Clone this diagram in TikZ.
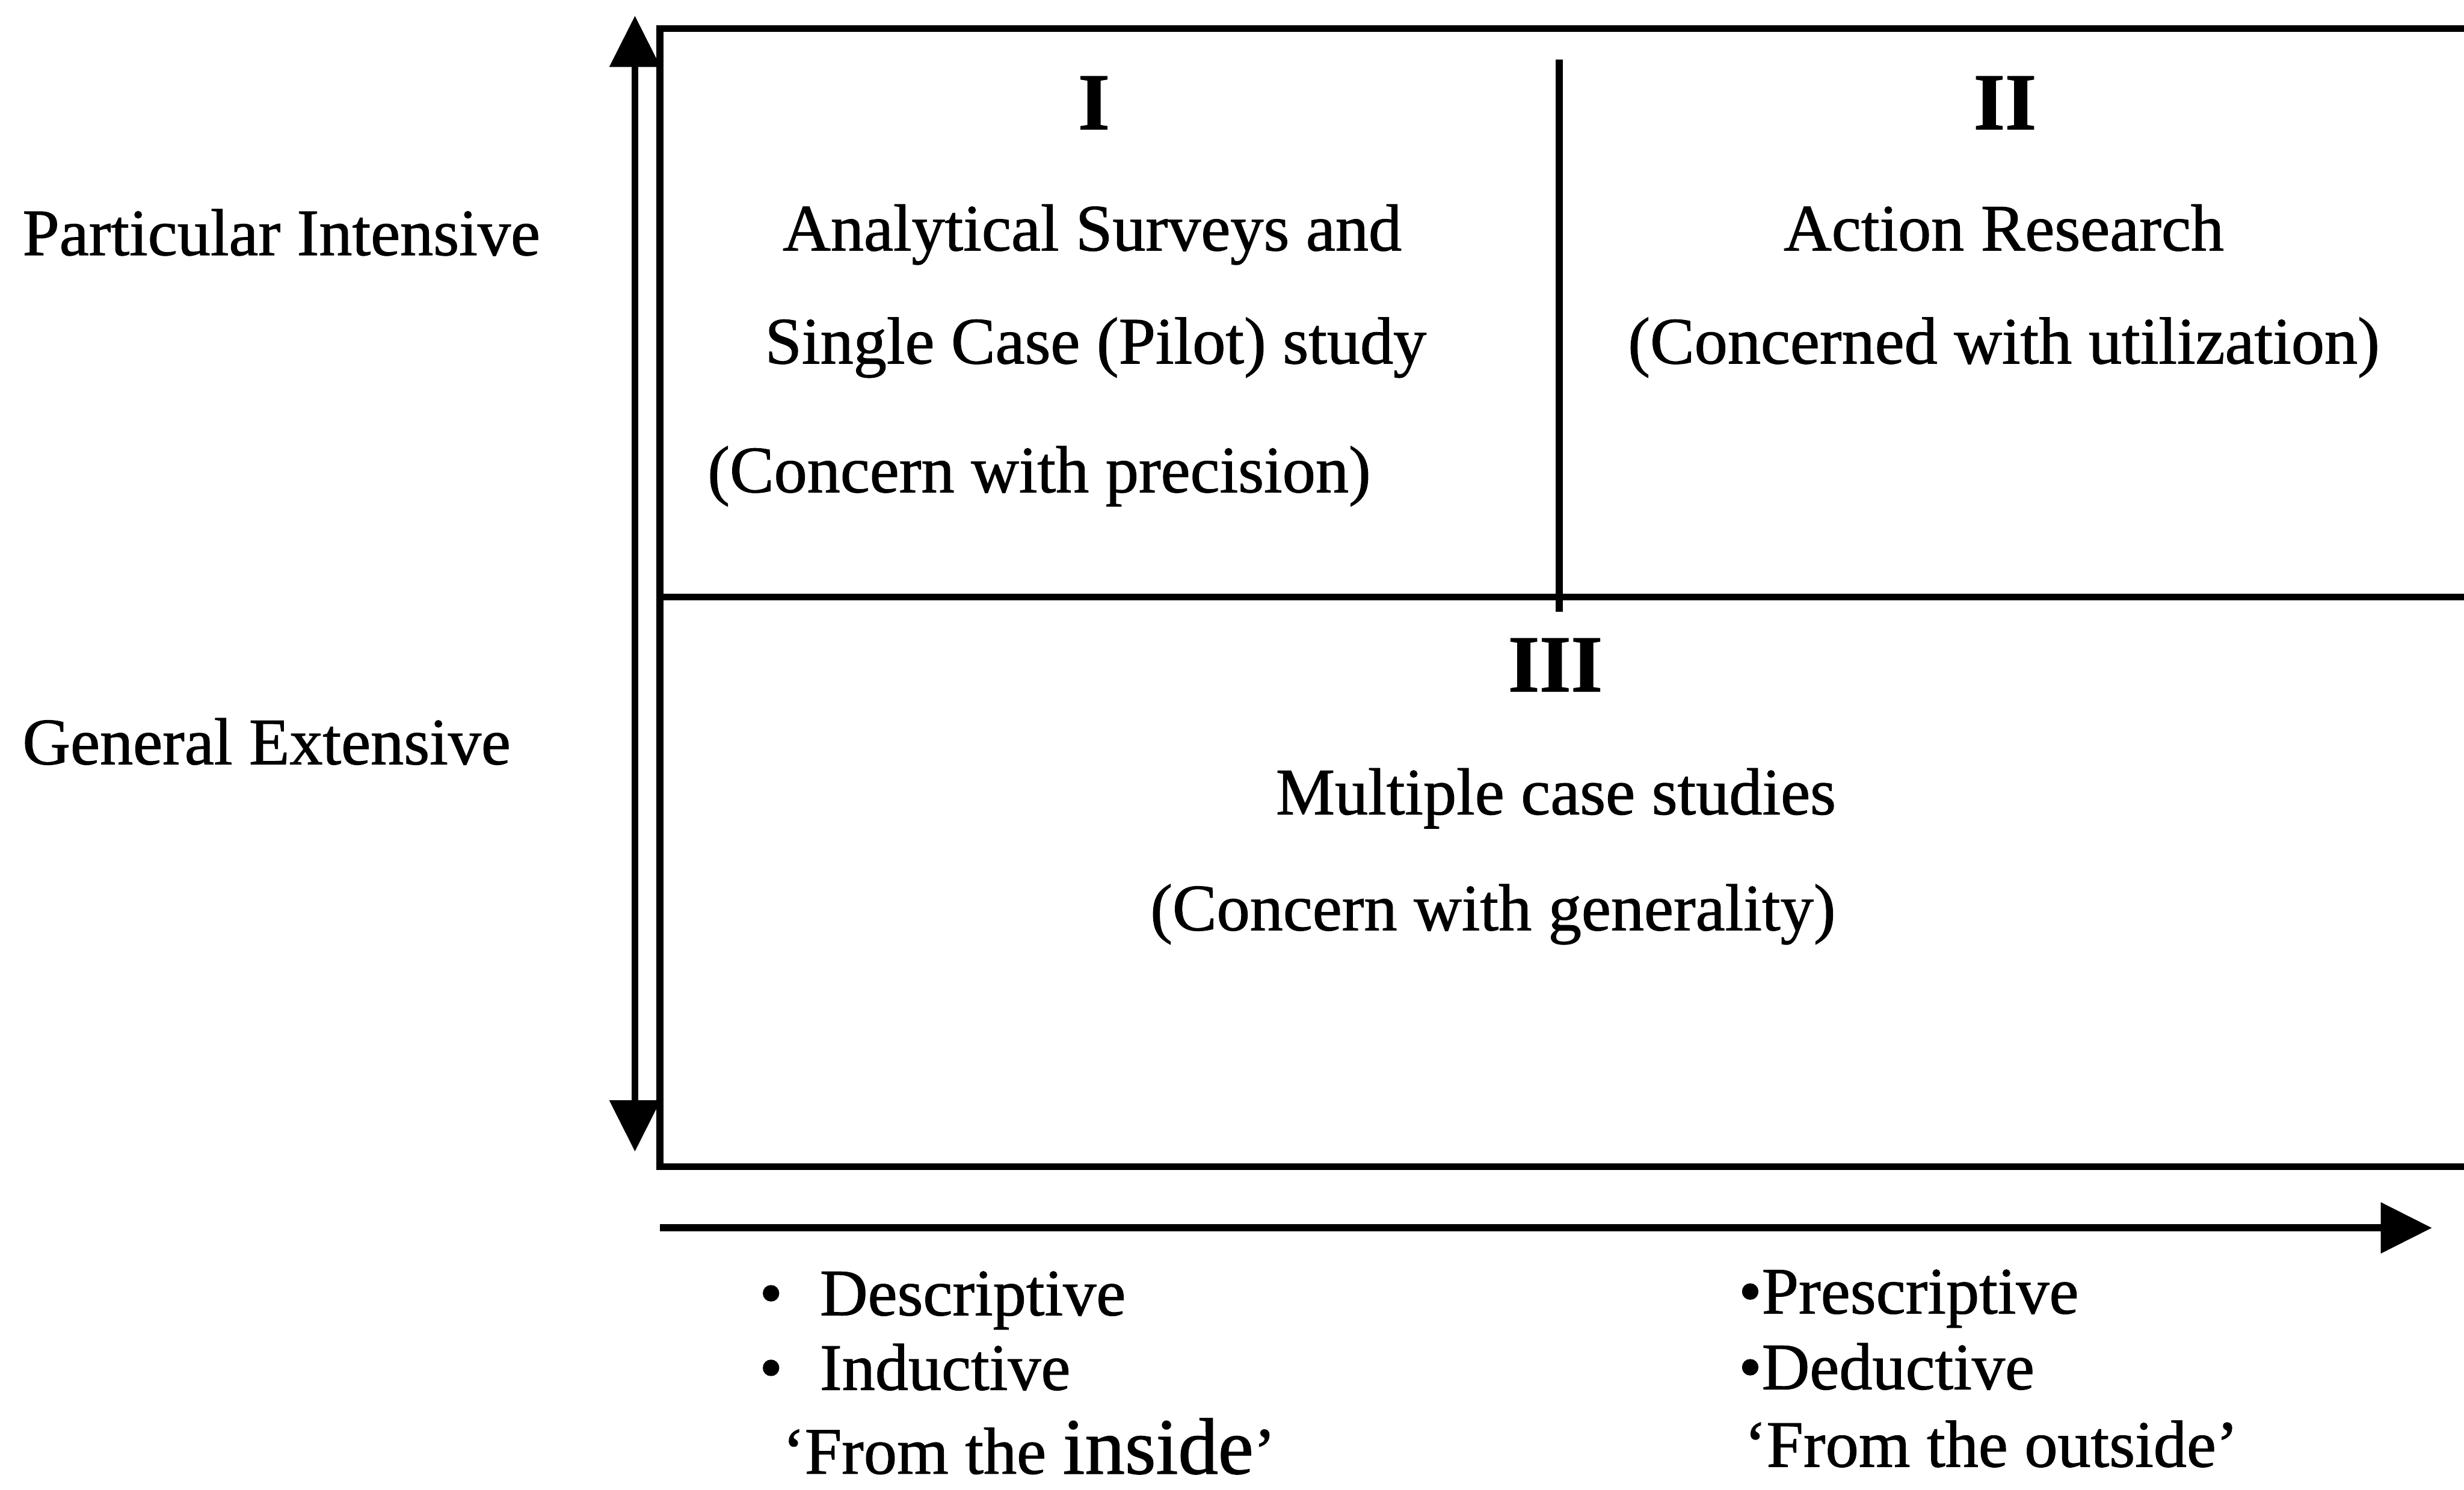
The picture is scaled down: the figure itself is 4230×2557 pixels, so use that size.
\documentclass[tikz,border=0pt]{standalone}
\usepackage{fontspec}
\setmainfont{Liberation Serif}[FakeBold=1.0]
\usetikzlibrary{arrows.meta}
\tikzset{
  rule/.style={line width=1.2mm, line join=miter},
  axis/.style={line width=1.2mm, -{Triangle[length=8.8mm,width=8.5mm]}},
  txt/.style={anchor=base, inner sep=0pt, font=\fontsize{32.4}{38}\selectfont},
  txtw/.style={txt, anchor=base west},
  num/.style={anchor=base, inner sep=0pt, font=\fontsize{39.5}{46}\selectfont\bfseries},
}
\begin{document}
\begin{tikzpicture}[x=0.1mm,y=-0.1mm]
\useasboundingbox (0,0) rectangle (4230,2557);
% coordinates of the frame
\coordinate (tr) at (4260,49);
\coordinate (tl) at (1133,49);
\coordinate (bl) at (1133,2003);
\coordinate (br) at (4260,2003);
\coordinate (ml) at (1133,1025);
\coordinate (mr) at (4260,1025);
\coordinate (dt) at (2677,102);
\coordinate (db) at (2677,1050);
\coordinate (vt) at (1090,27);
\coordinate (vb) at (1090,1977);
\coordinate (hl) at (1133,2108);
\coordinate (hr) at (4175,2108);
% frame
\draw[rule] (tr) -- (tl) -- (bl) -- (br);
\draw[rule] (ml) -- (mr);
\draw[rule] (dt) -- (db);
% axes
\draw[axis, {Triangle[length=8.8mm,width=8.5mm]}-{Triangle[length=8.8mm,width=8.5mm]}] (vt) -- (vb);
\draw[axis] (hl) -- (hr);
% left labels
\node[txtw] (pi) at (38,438) {Particular Intensive};
\node[txtw] (ge) at (38,1312) {General Extensive};
% quadrant I
\node[num] (n1) at (1878,222) {I};
\node[txt] (a1) at (1875,430) {Analytical Surveys and};
\node[txt] (a2) at (1881,624) {Single Case (Pilot) study};
\node[txt] (a3) at (1784,845) {(Concern with precision)};
% quadrant II
\node[num] (n2) at (3442,222) {II};
\node[txt] (b1) at (3440,430) {Action Research};
\node[txt] (b2) at (3440,624) {(Concerned with utilization)};
% quadrant III
\node[num] (n3) at (2670,1187) {III};
\node[txt] (c1) at (2671,1398) {Multiple case studies};
\node[txt] (c2) at (2563,1597) {(Concern with generality)};
% bottom labels
\node[txtw] (d1) at (1303,2258) {•\hspace{6.4mm}Descriptive};
\node[txtw] (d2) at (1303,2386) {•\hspace{6.4mm}Inductive};
\node[txtw] (d3) at (1343,2530) {‘From the {\fontsize{39}{46}\selectfont inside}’};
\node[txtw] (e1) at (2984,2255) {•Prescriptive};
\node[txtw] (e2) at (2984,2385) {•Deductive};
\node[txtw] (e3) at (2994,2518) {‘From the outside’};
\end{tikzpicture}
\end{document}
